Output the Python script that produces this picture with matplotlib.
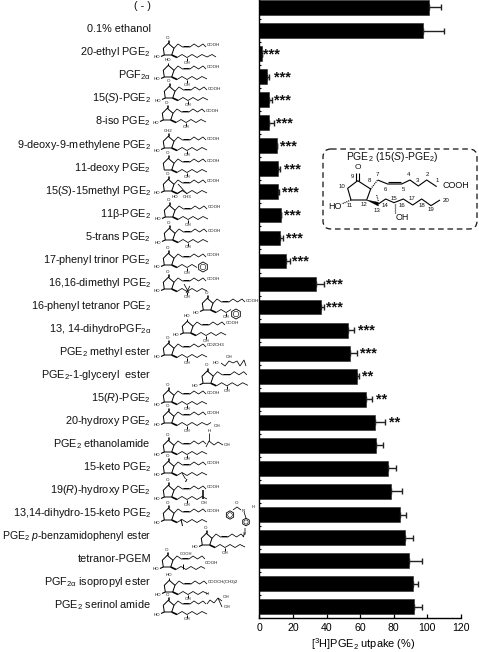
import matplotlib
matplotlib.use("Agg")
import matplotlib.pyplot as plt
from matplotlib.patches import FancyBboxPatch, Polygon, Circle, RegularPolygon

plt.rcParams['font.family'] = ['Liberation Sans', 'DejaVu Sans']
plt.rcParams['mathtext.fontset'] = 'custom'
plt.rcParams['mathtext.rm'] = 'Liberation Sans'
plt.rcParams['mathtext.it'] = 'Liberation Sans:italic'
plt.rcParams['mathtext.bf'] = 'Liberation Sans:bold'
plt.rcParams['mathtext.default'] = 'regular'

compounds = [
    "( - )", "0.1% ethanol", "20-ethyl PGE$_2$", "PGF$_{2α}$", "15($\\mathit{S}$)-PGE$_2$",
    "8-iso PGE$_2$", "9-deoxy-9-methylene PGE$_2$", "11-deoxy PGE$_2$",
    "15($\\mathit{S}$)-15methyl PGE$_2$", "11β-PGE$_2$", "5-trans PGE$_2$",
    "17-phenyl trinor PGE$_2$", "16,16-dimethyl PGE$_2$", "16-phenyl tetranor PGE$_2$",
    "13, 14-dihydroPGF$_{2α}$", "PGE$_2$ methyl ester", "PGE$_2$-1-glyceryl  ester",
    "15($\\mathit{R}$)-PGE$_2$", "20-hydroxy PGE$_2$", "PGE$_2$ ethanolamide", "15-keto PGE$_2$",
    "19($\\mathit{R}$)-hydroxy PGE$_2$", "13,14-dihydro-15-keto PGE$_2$",
    "PGE$_2$ $\\mathit{p}$-benzamidophenyl ester", "tetranor-PGEM",
    "PGF$_{2α}$ isopropyl ester", "PGE$_2$ serinol amide",
]
uptake = [100.8, 97.4, 1.4, 4.4, 5.6, 6.0, 10.3, 11.1, 11.3, 12.7, 12.5, 15.9, 33.9, 36.5,
          52.6, 54.2, 58.0, 63.7, 68.7, 69.5, 76.8, 78.6, 83.9, 86.5, 89.1, 91.5, 92.3]
sem = [7.2, 12.6, 0.3, 1.6, 1.8, 2.6, 0.3, 1.4, 0.6, 0.3, 1.8, 2.2, 4.4, 2.0,
       4.0, 4.2, 1.3, 3.6, 5.9, 4.3, 4.6, 6.5, 3.2, 5.2, 7.9, 3.0, 4.4]
stars = ["", "", "***", "***", "***", "***", "***", "***", "***", "***", "***", "***", "***", "***",
         "***", "***", "**", "**", "**", "", "", "", "", "", "", "", ""]
xticks = [0, 20, 40, 60, 80, 100, 120]

# layout: pixel x where each star group starts
star_px = {2: 263, 3: 274, 4: 274, 5: 276.5, 6: 280, 7: 283.5, 8: 282, 9: 284.5, 10: 286.5,
           11: 292.5, 12: 326.5, 13: 326.5, 14: 357.5, 15: 359.5, 16: 362.5, 17: 375.5, 18: 389}

W, H, DPI = 479, 652, 100
fig = plt.figure(figsize=(W / DPI, H / DPI), dpi=DPI)
ax = fig.add_axes([259.3 / W, 1 - 618 / H, (461 - 259.3) / W, 618 / H])
pos = list(range(len(compounds)))
ax.barh(pos, uptake, height=0.64, color='black', edgecolor='#222222', linewidth=0.4,
        xerr=[[0] * len(sem), sem], error_kw=dict(ecolor='#222222', elinewidth=1.0, capsize=2.2, capthick=1.0))
ax.set_xlim(0, 120)
ax.set_ylim(26.49, -0.325)
for s in ('top', 'right'):
    ax.spines[s].set_visible(False)
for s in ('left', 'bottom'):
    ax.spines[s].set_linewidth(1.0)
ax.set_xticks(xticks)
ax.tick_params(axis='x', direction='in', length=3.2, width=0.9, labelsize=7.6, pad=3.5)
ax.set_yticks([i + 0.5 for i in pos[:-1]])
ax.tick_params(axis='y', direction='in', length=1.5, width=0.8, labelleft=False)
ax.set_xlabel("[$^3$H]PGE$_2$ utpake (%)", fontsize=7.9, labelpad=2)
ax.xaxis.set_label_coords(0.515, -0.030)

for i, name in enumerate(compounds):
    ax.annotate(name, xy=(0, i), xycoords=ax.get_yaxis_transform(),
                xytext=(-108.3, -1.8), textcoords='offset pixels',
                ha='right', va='baseline', fontsize=7.6 if 'benzamido' in name else 7.8,
                color='#111111', annotation_clip=False)
for i, s in enumerate(stars):
    if s:
        ax.annotate(s, xy=(star_px[i], i), xycoords=('figure pixels', 'data'),
                    xytext=(0, -4.5), textcoords='offset pixels', ha='left', va='baseline',
                    fontsize=10.5, fontweight='bold', color='#111111', annotation_clip=False)

# overlay in image pixels for the chemical drawings
ov = fig.add_axes([0, 0, 1, 1], facecolor='none')
ov.set_xlim(0, W)
ov.set_ylim(H, 0)
ov.axis('off')

def line(pts, lw=0.55, **kw):
    ov.plot([p[0] for p in pts], [p[1] for p in pts], color='black', lw=lw,
            solid_joinstyle='miter', solid_capstyle='butt', **kw)

def label(x, y, s, size=3.2, ha='left'):
    ov.text(x, y, s, fontsize=size, ha=ha, va='center', color='#111111')

def molecule(cx, cy, top='O', end='COOH', oh=True, ho=True, omega=None, s=1.0):
    P = lambda pts: [(cx + a * s, cy + b * s) for a, b in pts]
    line(P([(-0.7, -6.7), (5, -1.7), (2.7, 5), (-4.7, 5), (-5.7, -1.7), (-0.7, -6.7)]), lw=0.7)
    if top:
        if top == 'HO':
            line(P([(-0.7, -6.7), (-0.7, -9.5)]), lw=0.7)
        else:
            line(P([(-1.3, -6.7), (-1.3, -10)]))
            line(P([(-0.2, -6.7), (-0.2, -10)]))
        tx, ty = P([(-1, -12)])[0]
        label(tx, ty, top, ha='center')
    line(P([(5, -1.7), (9, -6), (13.5, -3), (21, -3), (25, -6), (29.5, -3), (34, -6), (37, -3)]))
    line(P([(14, -4.2), (20.5, -4.2)]), lw=0.7)
    if end:
        ex, ey = P([(38, -4.5)])[0]
        label(ex, ey, end)
    om = omega or [(8, 7.5), (13, 4.5), (18, 7.5), (23, 4.5), (28, 7.5), (33, 4.5), (38, 7)]
    line(P([(2.7, 5)] + om[:1]), lw=1.2)
    line(P(om))
    if oh:
        line(P([(18, 7.5), (18, 10.5)]), lw=0.7)
        ox, oy = P([(18, 12.5)])[0]
        label(ox, oy, 'OH', ha='center')
    if ho:
        line(P([(-4.7, 5), (-8, 6.5)]), lw=0.8)
        hx, hy = P([(-12, 7.5)])[0]
        label(hx, hy, 'HO', ha='center')

def phenyl(x, y, r=4):
    ov.add_patch(RegularPolygon((x, y), 6, radius=r, fill=False, ec='black', lw=0.6))
    ov.add_patch(Circle((x, y), r * 0.55, fill=False, ec='black', lw=0.4))

# ring centres per row
short = [(8, 7.5), (13, 4.5), (18, 7.5), (23, 4.5), (28, 7.5), (33, 4.5)]
molecule(169, 50, omega=short + [(38, 7), (43, 4.5), (47, 7)])
molecule(169, 72, top='HO')
molecule(170, 93)
molecule(168, 115)
molecule(169, 143, top='CH2')
molecule(169, 165, ho=False, end='COOH')
molecule(169, 186, oh=False)
label(175, 197.5, 'HO', ha='center'); label(183, 197.5, 'CH3')
line([(187, 194), (178, 184)]); line([(177, 194), (183, 190)])
molecule(170, 212)
molecule(170, 235)
molecule(169, 260, omega=short[:5])
phenyl(203, 267, 5)
molecule(169, 284)
line([(184, 284), (189, 293)]); line([(186, 293), (190, 286)])
molecule(208, 305, omega=short[:4], end='COOH')
phenyl(236, 314, 5)
molecule(188, 328, top='HO')
molecule(169, 350, end='CO2CH3')
molecule(208, 378, end=None, s=1.05, omega=short + [(38, 7)])
line([(246, 366), (244, 360), (240, 366), (237, 361), (233, 363)])
label(216, 363, 'HO', ha='center'); label(229, 357, 'OH', ha='center')
line([(221, 363), (225, 366), (229, 361), (233, 363)])
molecule(169, 397, end='COOH')
molecule(169, 418, omega=short + [(38, 7), (42, 4.5)])
label(214, 426, 'OH')
molecule(169, 447, end=None)
line([(206, 447), (209, 441), (214, 445), (218, 442), (223, 445)])
label(209, 431, 'H', ha='center'); line([(209, 433), (209, 441)])
label(224, 445, 'OH')
molecule(169, 468, oh=False)
line([(187, 479), (185.5, 482)], lw=0.7); line([(182, 473), (185.5, 479)])
molecule(169, 492)
line([(203, 499), (203, 490)], lw=1.1); label(201, 503, 'OH')
molecule(169, 515, oh=False)
line([(181, 519), (182.5, 526)], lw=0.7)
molecule(207, 540, end=None, s=1.0)
line([(243, 537), (245, 533), (245, 528)]); label(243, 534, 'O', ha='left', size=2.8)
phenyl(246, 522, 3.8)
line([(246, 518), (244, 512)]); label(243.5, 511, 'N', ha='center')
label(253, 506.5, 'H', ha='center', size=3)
line([(241, 510), (237, 507), (233, 510)])
label(237, 503, 'O', ha='center')
phenyl(230, 515, 4.2)
molecule(168, 562, omega=short[:5] + [(33, 4.5), (37, 6.5)], end=None, oh=False)
label(186, 554, 'COOH', ha='center', size=3)
line([(183, 564), (183, 569)], lw=0.7)
label(205, 563, 'COOH')
molecule(170, 587, top='HO', end='COOCH(CH3)2')
molecule(169, 607, end=None)
line([(207, 604), (210, 600), (214, 603)]); label(207, 594, 'H', ha='center')
line([(214, 603), (218, 598), (222, 601)]); label(223, 597, 'OH'); label(224, 607, 'OH')
line([(218, 598), (222, 607)])

# inset: reference structure
box = FancyBboxPatch((323, 149), 154, 80, boxstyle="round,pad=0,rounding_size=8",
                     fill=False, ec='#111111', lw=0.9, ls=(0, (4.5, 3)))
ov.add_patch(box)
ov.text(392, 157.5, "PGE$_2$ (15($\\mathit{S}$)-PGE$_2$)", fontsize=7.5, ha='center', va='center', color='#111111')

def z(pts):
    return [(250 + a / 3, b / 3) for a, b in pts]

line(z([(323, 542), (362, 567), (350, 600), (303, 600), (293, 565), (323, 542)]), lw=0.8)
line(z([(318, 542), (318, 520)]), lw=0.8)
line(z([(328, 542), (328, 520)]), lw=0.8)
label(250 + 323 / 3, 502 / 3, 'O', size=6.0, ha='center')
line(z([(362, 567), (383, 540)]), lw=0.9, ls=(0, (0.8, 0.8)))
line(z([(383, 540), (413, 552), (455, 552), (480, 540), (505, 558), (530, 540), (560, 560)]), lw=0.8)
line(z([(415, 546), (452, 546)]), lw=0.8)
label(250 + 578 / 3, 556 / 3, 'COOH', size=6.5)
ov.add_patch(Polygon(z([(350, 600), (385, 607), (385, 618)]), closed=True, fc='black', ec='black', lw=0.3))
line(z([(385, 612), (407, 597), (432, 608), (460, 597), (488, 615), (515, 597), (543, 617), (570, 600)]), lw=0.8)
line(z([(380, 585), (385, 603)]), lw=0.8, ls=(0, (0.8, 0.8)))
line(z([(435, 612), (435, 638)]), lw=0.9, ls=(0, (0.8, 0.8)))
label(250 + 458 / 3, 653 / 3, 'OH', size=6.5, ha='center')
label(250 + 256 / 3, 620 / 3, 'HO', size=6.5, ha='center')
line(z([(303, 600), (275, 612)]), lw=0.9, ls=(0, (0.8, 0.8)))
nums = {'9': (308, 530), '10': (275, 558), '11': (300, 617), '12': (342, 613), '8': (357, 540),
        '7': (383, 525), '6': (406, 568), '5': (460, 568), '4': (475, 522), '3': (503, 540),
        '2': (533, 523), '1': (561, 540), '13': (380, 632), '14': (405, 617), '15': (432, 595),
        '16': (457, 617), '17': (487, 595), '18': (515, 617), '19': (543, 628), '20': (587, 603)}
for k, (a, b) in nums.items():
    label(250 + a / 3, b / 3, k, size=4.4, ha='center')

fig.savefig("out.png", dpi=DPI)
